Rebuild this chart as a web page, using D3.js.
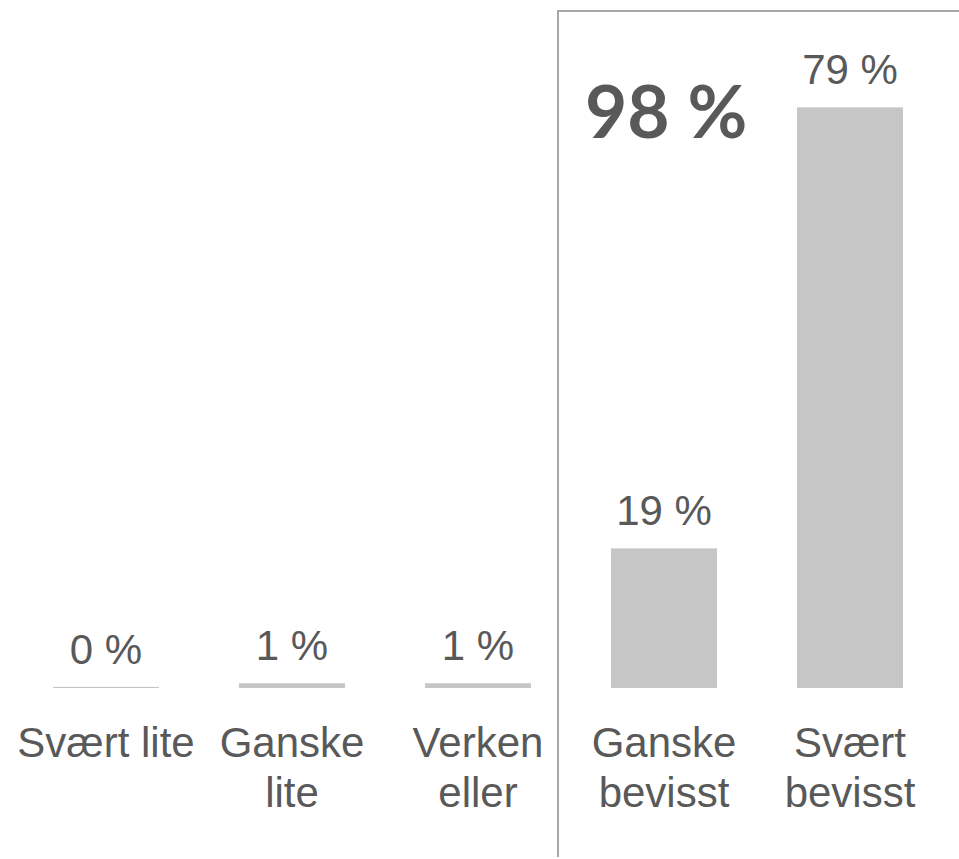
<!DOCTYPE html>
<meta charset="utf-8">
<style>

body {
  margin: 0;
  background: #fff;
}

text {
  font-family: "Liberation Sans", Arial, sans-serif;
  fill: #595959;
}

</style>
<svg width="959" height="859"></svg>
<script src="https://d3js.org/d3.v7.min.js"></script>
<script>

// chart data
var categories = ["Svært lite", "Ganske lite", "Verken eller", "Ganske bevisst", "Svært bevisst"];
var label_lines = [["Svært lite"], ["Ganske", "lite"], ["Verken", "eller"], ["Ganske", "bevisst"], ["Svært", "bevisst"]];
var values = [0.15, 0.65, 0.65, 19, 79];
var total_label = "98 %";

var bar_colour = "#c6c6c6";
var text_colour = "#595959";
var box_colour = "#a6a6a6";

var svg = d3.select("svg"),
    width = +svg.attr("width"),
    height = +svg.attr("height");

var baseline = 688;
var font_size = 42;

var x = d3.scaleBand()
    .domain(categories)
    .range([13, 943])
    .paddingInner(0.43)
    .paddingOuter(0.215);

var y = d3.scaleLinear()
    .domain([0, 100])
    .range([baseline, baseline - 735]);

// box around the positive answers (opens to the right and bottom)
var box_left = x(categories[3]) - 53;
svg.append("path")
    .attr("d", "M" + box_left + "," + 857 + "V" + 11 + "H" + width)
    .style("fill", "none")
    .style("stroke", box_colour)
    .style("stroke-width", 2);

// bars
svg.append("g")
    .selectAll("rect")
    .data(values)
    .enter().append("rect")
    .attr("x", function(d, i) { return x(categories[i]); })
    .attr("y", function(d) { return y(d); })
    .attr("width", x.bandwidth())
    .attr("height", function(d) { return baseline - y(d); })
    .style("fill", bar_colour);

// value labels
svg.append("g")
    .selectAll("text")
    .data(values)
    .enter().append("text")
    .attr("x", function(d, i) { return x(categories[i]) + x.bandwidth() / 2; })
    .attr("y", function(d) { return y(d) - 23; })
    .attr("text-anchor", "middle")
    .style("font-size", font_size + "px")
    .text(function(d) { return Math.round(d) + " %"; });

// category labels, one or two lines
var cat = svg.append("g")
    .selectAll("text")
    .data(label_lines)
    .enter().append("text")
    .attr("text-anchor", "middle")
    .style("font-size", font_size + "px");

cat.selectAll("tspan")
    .data(function(d, i) { return d.map(function(t) { return {t: t, i: i}; }); })
    .enter().append("tspan")
    .attr("x", function(d) { return x(categories[d.i]) + x.bandwidth() / 2; })
    .attr("y", function(d, j) { return 757 + j * 50; })
    .text(function(d) { return d.t; });

// total of the two positive answers
svg.append("text")
    .attr("x", 585)
    .attr("y", 138)
    .style("font-family", "Lato, sans-serif")
    .style("font-weight", "bold")
    .style("font-size", "73px")
    .style("fill", text_colour)
    .text(total_label);

</script>
